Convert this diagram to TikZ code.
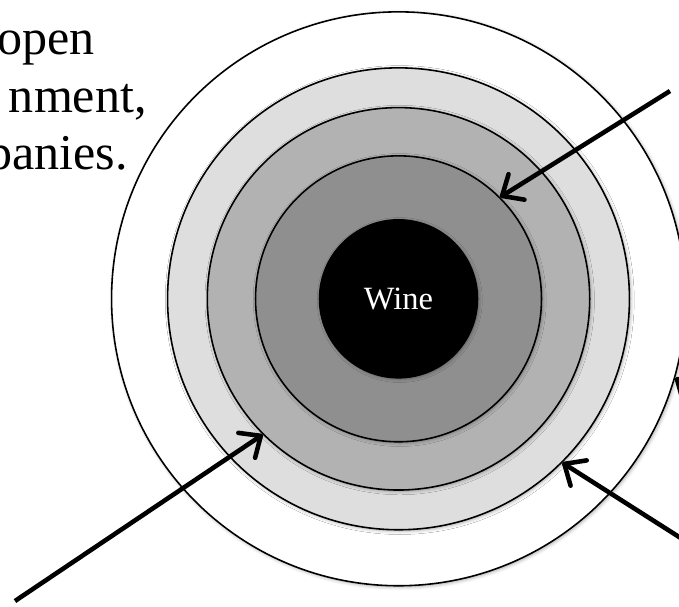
\documentclass[tikz,border=0pt]{standalone}
\usepackage{fontspec}
\setmainfont{Liberation Serif}
\usetikzlibrary{arrows.meta,shadows.blur}

\tikzstyle{ring} = [circle, draw, line width=0.9pt, inner sep=0pt, blur shadow={shadow xshift=0.7pt, shadow yshift=-0.7pt, shadow blur radius=2pt, shadow opacity=35}]
\tikzstyle{pointer} = [line width=2.6pt, -{Straight Barb[round, length=0.34cm, width=0.6cm]}]
\tikzstyle{intro} = [anchor=base east, inner sep=0pt, font=\fontsize{28.5}{34}\selectfont]

\begin{document}
\begin{tikzpicture}[x=0.02cm, y=-0.02cm]

    \useasboundingbox (0,0) rectangle (679,606);
    \clip (0,0) rectangle (679,606);

    %  text  
    \node[intro] (L1) at (95,54) {open};
    \node[intro] (L2) at (147,112) {nment,};
    \node[intro] (L3) at (128,169) {panies.};

   %-------------------------------------------------------------
    \node[ring, fill=white, minimum size=11.48cm] (C1) at (398.5,298.8) {};
    \node[ring, fill=black!13, minimum size=9.24cm] (C2) at (398.5,298.8) {};
    \node[ring, fill=black!30, minimum size=7.65cm] (C3) at (398.5,298.8) {};
    \node[ring, fill=black!44, minimum size=5.72cm] (C4) at (398.5,298.8) {};
    \node[ring, fill=black, text=white, minimum size=3.16cm, font=\fontsize{18.5}{20}\selectfont] (W) at (398.5,298.8) {Wine};

   %-------------------------------------------------------------
    \coordinate (A1) at (670,91);
    \coordinate (A2) at (15,601);
    \coordinate (A3) at (720,563);
    \coordinate (A4) at (730,414);

    \draw[pointer] (A1) -- (C4.45);
    \draw[pointer] (A2) -- (C3.225);
    \draw[pointer] (A3) -- (C2.-45);
    \draw[pointer] (A4) -- (C1.-16);

\end{tikzpicture}
\end{document}
